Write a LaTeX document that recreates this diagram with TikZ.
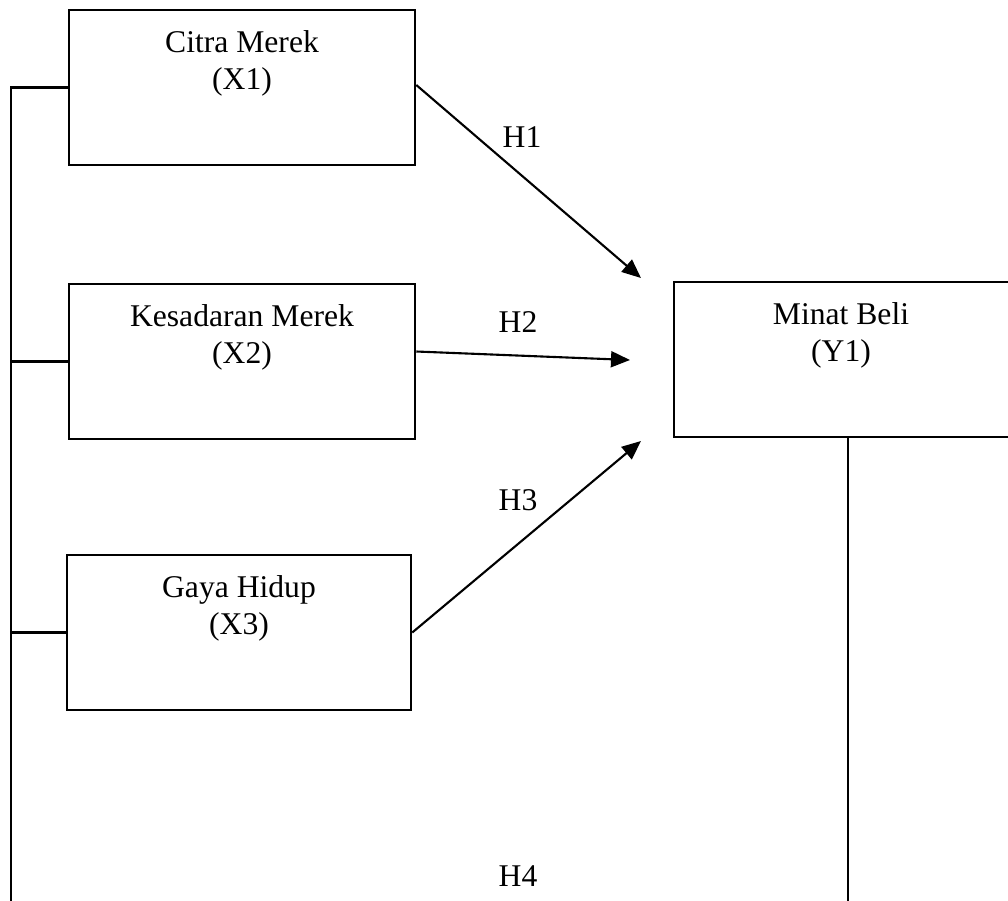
\documentclass[tikz,border=0pt]{standalone}
\usepackage{fontspec}
\setmainfont{Liberation Serif}
\usetikzlibrary{arrows.meta,positioning}
\tikzset{
  varbox/.style={draw,line width=1.5pt,rectangle,minimum width=6.92cm,minimum height=3.1cm,inner sep=0pt},
  vartext/.style={anchor=north,align=center,inner sep=0pt,font=\fontsize{18}{21}\selectfont},
  hyp/.style={inner sep=0pt,font=\fontsize{18}{21}\selectfont},
  link/.style={line width=1.5pt},
  effect/.style={line width=1.2pt,-{Triangle[length=3.8mm,width=3.2mm]}}
}
\begin{document}
\begin{tikzpicture}[x=0.02cm,y=-0.02cm]
\useasboundingbox (0,0) rectangle (1008,900);

% variables
\node[varbox] (x1) at (242,87.5) {};
\node[varbox] (x2) at (242,361.5) {};
\node[varbox,minimum width=6.88cm] (x3) at (239,632.5) {};
\node[varbox,minimum width=6.76cm] (y1) at (843,359.5) {};

\node[vartext] (x1t) at (242,30) {Citra Merek\\(X1)};
\node[vartext] (x2t) at (242,304) {Kesadaran Merek\\(X2)};
\node[vartext] (x3t) at (239,575) {Gaya Hidup\\(X3)};
\node[vartext] (y1t) at (841,302) {Minat Beli\\(Y1)};

% left line
\coordinate (busend) at (11,920);
\draw[link] (x1.west) -| (busend);
\foreach \v in {x2,x3}{
\draw[link] (\v.west) -- (\v.west -| busend);
}

% line under Y1
\coordinate (yend) at (848,920);
\draw[link] (y1.south -| yend) -- (yend);

% arrows
\coordinate (h1tip) at (641,278);
\coordinate (h2tip) at (630,360);
\coordinate (h3tip) at (641,441);
\draw[effect] ([yshift=0.05cm]x1.east) -- (h1tip);
\draw[effect] ([yshift=0.2cm]x2.east) -- (h2tip);
\draw[effect] (x3.east) -- (h3tip);

\node[hyp] (h1) at (522,137) {H1};
\node[hyp] (h2) at (518,322) {H2};
\node[hyp] (h3) at (518,500) {H3};
\node[hyp] (h4) at (518,876) {H4};
\end{tikzpicture}
\end{document}
